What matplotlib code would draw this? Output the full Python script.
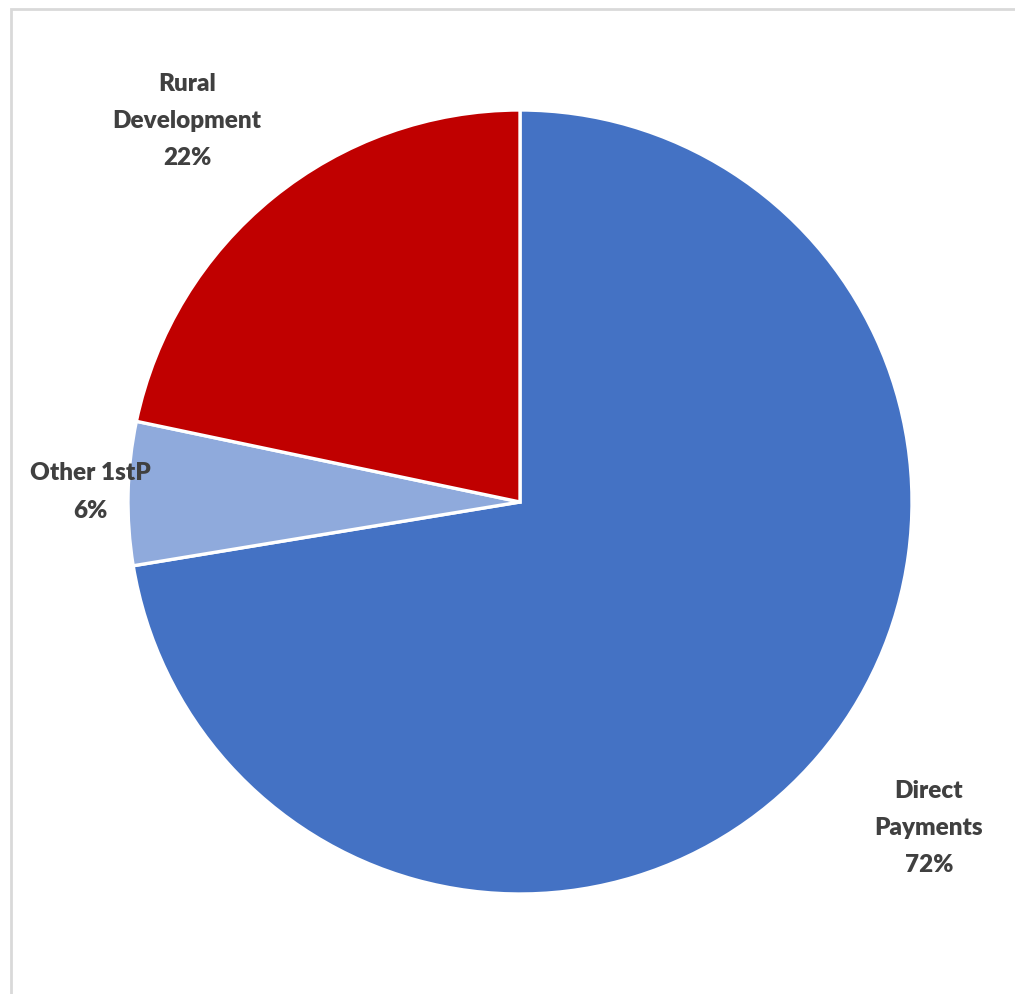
import matplotlib.pyplot as plt
from matplotlib.patches import Rectangle

labels = ['Direct\nPayments', 'Other 1stP', 'Rural\nDevelopment']
shares = [72.4, 5.9, 21.7]
colors = ['#4472C4', '#8FAADC', '#C00000']
# label centres in figure pixels (x, y from top)
label_pos = [(929, 828), (90, 492), (187, 121)]

W, H = 1015, 994


def main():
    fig = plt.figure(figsize=(W / 100, H / 100), dpi=100)
    fig.patch.set_facecolor('white')

    # chart-area border, only left/top edges visible in the crop
    fig.patches.append(Rectangle((11 / W, -0.1), 1.2, 1 - 9 / H + 0.1,
                                 transform=fig.transFigure, fill=False,
                                 edgecolor='#D9D9D9', linewidth=2))

    cx, cy, r = 520, 502, 392
    ax = fig.add_axes([(cx - r) / W, (H - cy - r) / H, 2 * r / W, 2 * r / H])
    ax.pie(shares, colors=colors, startangle=90, counterclock=False,
           wedgeprops=dict(edgecolor='white', linewidth=2.4))
    ax.set_xlim(-1, 1)
    ax.set_ylim(-1, 1)
    ax.set_aspect('auto')
    ax.axis('off')

    total = sum(shares)
    for lab, val, (px, py) in zip(labels, shares, label_pos):
        fig.text(px / W, 1 - py / H, '%s\n%d%%' % (lab, round(val / total * 100)),
                 ha='center', va='center', fontsize=17.5, fontweight='heavy',
                 family='Lato', color='#404040', linespacing=1.85)

    fig.savefig('out.png', dpi=100)


if __name__ == '__main__':
    main()
